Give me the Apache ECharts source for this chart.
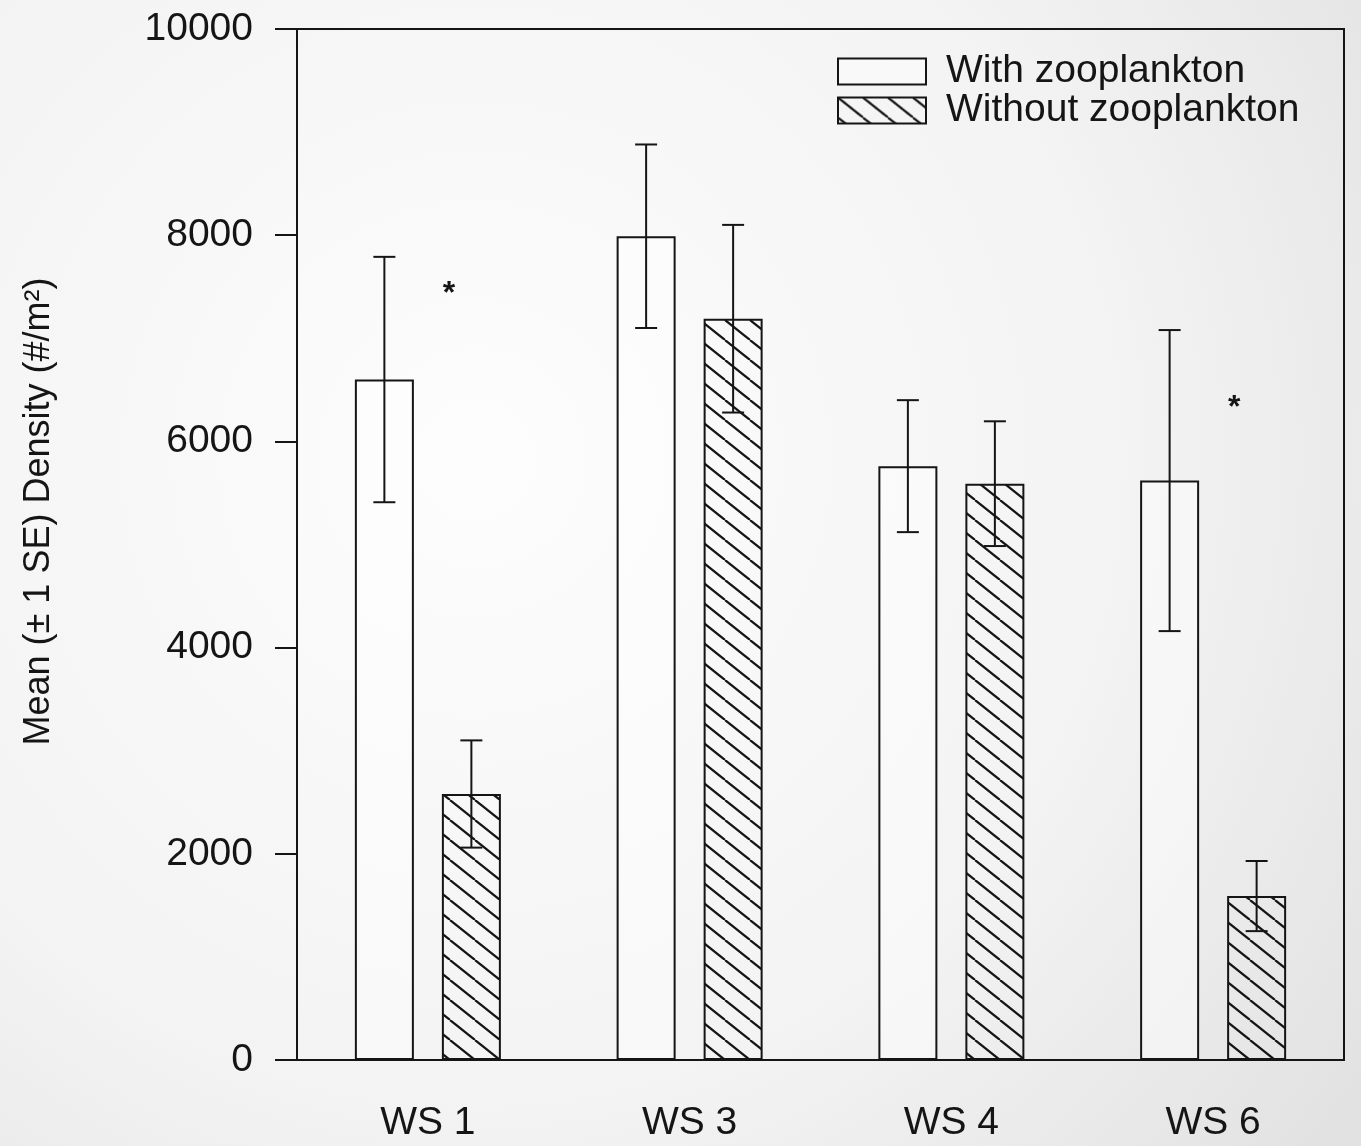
<!DOCTYPE html>
<html>
<head>
<meta charset="utf-8">
<script src="https://cdn.jsdelivr.net/npm/echarts@6/dist/echarts.min.js"></script>
<style>
  html, body { margin: 0; padding: 0; }
  #chart { width: 1361px; height: 1146px; }
</style>
</head>
<body>
<div id="chart"></div>
<script>
// categories and values
const sites = ['WS 1', 'WS 3', 'WS 4', 'WS 6'];
const withZoo = [6600, 7990, 5760, 5620];
const withZooSE = [1190, 890, 640, 1460];
const withoutZoo = [2580, 7190, 5590, 1590];
const withoutZooSE = [520, 910, 605, 340];
// significance marks (*)
const starValues = [7470, null, null, 6360];
const yTicks = [0, 2000, 4000, 6000, 8000, 10000];

const barWidth = 59;
const barGapPx = 28;
const ink = '#151515';

// diagonal hatch, like the original "\\\\" fill
const makeHatch = () => {
  const c = document.createElement('canvas');
  c.width = 25;
  c.height = 20;
  const ctx = c.getContext('2d');
  ctx.strokeStyle = ink;
  ctx.lineWidth = 2.2;
  [-25, 0, 25].forEach(dx => {
    ctx.beginPath();
    ctx.moveTo(dx, 0);
    ctx.lineTo(dx + 25, 20);
    ctx.stroke();
  });
  return c;
};

const chart = echarts.init(document.getElementById('chart'));

// error bars, shifted onto the left or right bar of each pair
const errorBars = (name, means, ses, side) => ({
  type: 'custom',
  name: name + ' SE',
  z: 5,
  data: means.map((m, i) => [i, m - ses[i], m + ses[i]]),
  renderItem: (params, api) => {
    const dx = side * (barWidth + barGapPx) / 2;
    const lo = api.coord([api.value(0), api.value(1)]);
    const hi = api.coord([api.value(0), api.value(2)]);
    const x = lo[0] + dx;
    const cap = 11;
    const style = { stroke: ink, lineWidth: 2 };
    return {
      type: 'group',
      children: [
        { type: 'line', shape: { x1: x, y1: lo[1], x2: x, y2: hi[1] }, style },
        { type: 'line', shape: { x1: x - cap, y1: hi[1], x2: x + cap, y2: hi[1] }, style },
        { type: 'line', shape: { x1: x - cap, y1: lo[1], x2: x + cap, y2: lo[1] }, style }
      ]
    };
  }
});

const option = {
  animation: false,
  backgroundColor: {
    type: 'radial', x: 0.35, y: 0.4, r: 0.95,
    colorStops: [
      { offset: 0, color: '#fdfdfd' },
      { offset: 0.6, color: '#f3f3f3' },
      { offset: 1, color: '#e2e2e2' }
    ]
  },
  textStyle: { fontFamily: 'Liberation Sans, Arial, sans-serif', color: ink },
  grid: {
    left: 297, top: 29, right: 17, bottom: 86,
    show: true, borderColor: ink, borderWidth: 2, backgroundColor: 'transparent'
  },
  legend: {
    orient: 'vertical',
    left: 832, top: 47,
    itemWidth: 88, itemHeight: 26, itemGap: 0,
    icon: 'rect',
    data: ['With zooplankton', 'Without zooplankton'],
    itemStyle: { borderColor: ink, borderWidth: 2 },
    textStyle: { fontSize: 39, lineHeight: 37, color: ink, padding: [0, 0, 0, 15] }
  },
  xAxis: {
    type: 'category',
    data: sites,
    axisLine: { lineStyle: { color: ink, width: 2 } },
    axisTick: { alignWithLabel: true, length: 19, lineStyle: { color: ink, width: 2 } },
    axisLabel: { fontSize: 39, color: ink, margin: 44 }
  },
  yAxis: {
    type: 'value',
    min: yTicks[0],
    max: yTicks[yTicks.length - 1],
    interval: 2000,
    name: 'Mean (± 1 SE) Density (#/m²)',
    nameLocation: 'middle',
    nameGap: 240,
    nameTextStyle: { fontSize: 36, color: ink, padding: [0, 0, 0, 66] },
    axisLine: { show: true, lineStyle: { color: ink, width: 2 } },
    axisTick: { show: true, length: 22, lineStyle: { color: ink, width: 2 } },
    axisLabel: { fontSize: 39, color: ink, margin: 44, formatter: v => String(v) },
    splitLine: { show: false }
  },
  series: [
    {
      name: 'With zooplankton',
      type: 'bar',
      data: withZoo,
      barWidth: barWidth,
      barGap: (barGapPx / barWidth * 100) + '%',
      itemStyle: { color: 'rgba(255,255,255,0.45)', borderColor: ink, borderWidth: 2 }
    },
    {
      name: 'Without zooplankton',
      type: 'bar',
      data: withoutZoo,
      barWidth: barWidth,
      itemStyle: {
        color: { image: makeHatch(), repeat: 'repeat' },
        borderColor: ink, borderWidth: 2
      }
    },
    errorBars('With zooplankton', withZoo, withZooSE, -1),
    errorBars('Without zooplankton', withoutZoo, withoutZooSE, 1),
    {
      name: 'significance',
      type: 'custom',
      z: 6,
      data: starValues.map((v, i) => [i, v]).filter(d => d[1] !== null),
      renderItem: (params, api) => {
        const p = api.coord([api.value(0), api.value(1)]);
        return {
          type: 'text',
          x: p[0] + 21,
          y: p[1] + 4,
          style: {
            text: '*', fontSize: 32, fontWeight: 'bold',
            fontFamily: 'Liberation Sans, Arial, sans-serif',
            fill: ink, align: 'center', verticalAlign: 'middle'
          }
        };
      }
    }
  ]
};

chart.setOption(option);
</script>
</body>
</html>
